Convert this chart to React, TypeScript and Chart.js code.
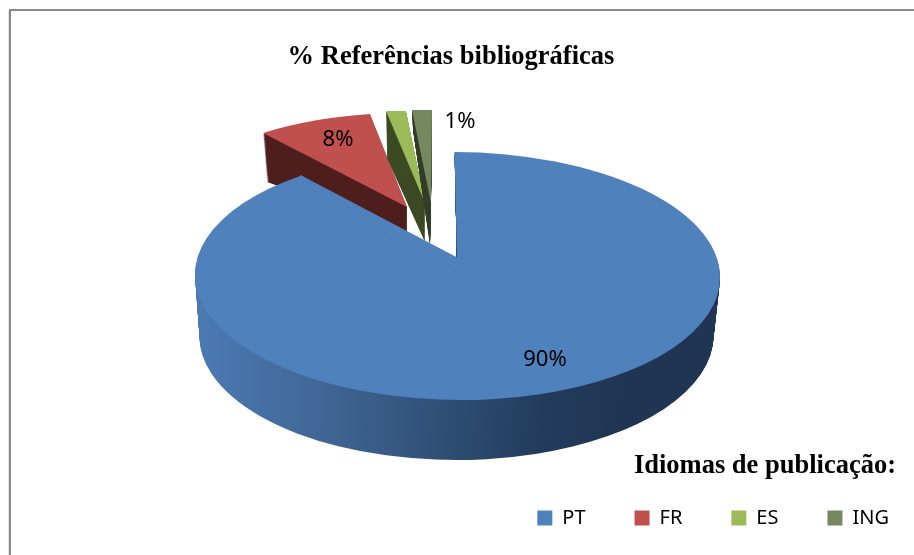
import React, { useEffect, useRef } from "react";
import { Chart, registerables } from "chart.js";

Chart.register(...registerables);

const categories = ["PT", "FR", "ES", "ING"];
const values = [90, 8, 1, 1];
const sliceColors = ["#4f81bd", "#c0504d", "#9bbb59", "#76885f"];
const wallColors = ["#1f3552", "#4f1f1e", "#3d4b24", "#333f2a"];
const titleText = "% Referências bibliográficas";
const legendTitle = "Idiomas de publicação:";
const showLabel = [true, true, false, true];

type P = [number, number];
// Projection of each slice: apex, rim at its start angle, rim at its end angle (or a quarter turn on), for its top and base face.
const projections: { top: [P, P, P]; base: [P, P, P]; quarter?: boolean; steps: number }[] = [
  { top: [[457.5, 276], [454.5, 152], [720, 276]], base: [[456.5, 336], [457, 212], [713.5, 336]], quarter: true, steps: 60 },
  { top: [[407, 207], [263, 133], [370, 114]], base: [[407, 232], [267, 182], [372, 163]], steps: 50 },
  { top: [[425, 203], [386, 111], [406, 111]], base: [[425, 242], [387, 158], [406, 158]], steps: 48 },
  { top: [[431, 203], [412, 110], [432, 110]], base: [[430, 245], [413, 130], [432, 130]], steps: 42 },
];
const mainApex: P = [457.3, 258];
const labelAt: P[] = [[545, 360], [338, 140], [0, 0], [460, 122]];
const wallStops: [number, string][] = [[0, "#4b79b2"], [0.3, "#3f6594"], [0.6, "#2e4c72"], [0.8, "#233c5c"], [1, "#1f3552"]];

function affine(n: P[], d: P[]) {
  const ax = n[1][0] - n[0][0], ay = n[1][1] - n[0][1];
  const bx = n[2][0] - n[0][0], by = n[2][1] - n[0][1];
  const det = ax * by - bx * ay;
  const ux = d[1][0] - d[0][0], uy = d[1][1] - d[0][1];
  const vx = d[2][0] - d[0][0], vy = d[2][1] - d[0][1];
  const a = (ux * by - vx * ay) / det;
  const c = (vx * ax - ux * bx) / det;
  const b = (uy * by - vy * ay) / det;
  const e = (vy * ax - uy * bx) / det;
  return [a, b, c, e, d[0][0] - a * n[0][0] - c * n[0][1], d[0][1] - b * n[0][0] - e * n[0][1]] as const;
}

const pie3d = {
  id: "pie3d",
  beforeDraw(chart: any) {
    const { ctx } = chart;
    ctx.save();
    ctx.fillStyle = "#e4e4e4";
    ctx.fillRect(8, 11, 1, 544);
    ctx.fillStyle = "#898989";
    ctx.fillRect(9, 9, 905, 2);
    ctx.fillRect(9, 9, 2, 546);
    ctx.restore();
  },
  beforeDatasetDraw(chart: any) {
    const { ctx } = chart;
    const els = chart.getDatasetMeta(0).data;
    const renderOne = (i: number) => {
      const el = els[i];
      const p = projections[i];
      const { x, y, startAngle, endAngle, outerRadius: R } = el.getProps(["x", "y", "startAngle", "endAngle", "outerRadius"]);
      const second = p.quarter ? startAngle + Math.PI / 2 : endAngle;
      const nat: P[] = [[x, y], [x + R * Math.cos(startAngle), y + R * Math.sin(startAngle)], [x + R * Math.cos(second), y + R * Math.sin(second)]];
      const saved = el.options;
      const paint = (pts: P[], fill: any) => {
        el.options = new Proxy(saved, { get: (t: any, k: any) => (k === "backgroundColor" ? fill : t[k]) });
        ctx.save();
        const m = affine(nat, pts);
        ctx.transform(m[0], m[1], m[2], m[3], m[4], m[5]);
        el.draw(ctx);
        ctx.restore();
      };
      let wall: any = wallColors[i];
      if (i === 0) {
        const sx = R / (p.top[2][0] - p.top[0][0]);
        const nx = (dx: number) => x + (dx - p.top[0][0]) * sx;
        wall = ctx.createLinearGradient(nx(200), 0, nx(625), 0);
        wallStops.forEach(([o, c]) => wall.addColorStop(o, c));
      }
      for (let s = p.steps; s > 0; s--) {
        const t = s / p.steps;
        paint(p.top.map((q, k) => [q[0] + (p.base[k][0] - q[0]) * t, q[1] + (p.base[k][1] - q[1]) * t] as P), wall);
      }
      paint(p.top, sliceColors[i]);
      el.options = saved;
      if (i === 0) {
        const m = affine(nat, p.top);
        const ex = x + R * Math.cos(endAngle), ey = y + R * Math.sin(endAngle);
        ctx.save();
        ctx.fillStyle = sliceColors[0];
        ctx.strokeStyle = sliceColors[0];
        ctx.lineWidth = 1;
        ctx.beginPath();
        ctx.moveTo(p.top[0][0], p.top[0][1]);
        ctx.lineTo(mainApex[0], mainApex[1]);
        ctx.lineTo(m[0] * ex + m[2] * ey + m[4], m[1] * ex + m[3] * ey + m[5]);
        ctx.closePath();
        ctx.fill();
        ctx.stroke();
        ctx.restore();
      }
    };
    [1, 2, 3, 0].forEach(renderOne);
    return false;
  },
  afterDraw(chart: any) {
    const { ctx } = chart;
    const total = values.reduce((a, b) => a + b, 0);
    ctx.save();
    ctx.fillStyle = "#000";
    ctx.textAlign = "center";
    ctx.textBaseline = "middle";
    ctx.font = "22px 'Noto Sans'";
    values.forEach((v, i) => {
      if (showLabel[i]) ctx.fillText(`${Math.round((v / total) * 100)}%`, labelAt[i][0], labelAt[i][1]);
    });
    ctx.textAlign = "right";
    ctx.font = "bold 26.5px 'Liberation Serif'";
    ctx.fillText(legendTitle, 896, 466);
    ctx.restore();
  },
};

export default function App() {
  const ref = useRef<HTMLCanvasElement>(null);
  useEffect(() => {
    const chart = new Chart(ref.current!, {
      type: "pie",
      data: {
        labels: categories,
        datasets: [{ data: values, backgroundColor: sliceColors, borderWidth: 0 }],
      },
      options: {
        responsive: false,
        animation: false,
        events: [],
        layout: { padding: { left: -36, right: -24, top: 0, bottom: 17 } },
        plugins: {
          tooltip: { enabled: false },
          title: {
            display: true,
            text: titleText,
            color: "#000",
            font: { family: "'Liberation Serif'", size: 26.5, weight: "bold" },
            padding: { top: 41, bottom: 10 },
          },
          legend: {
            display: true,
            position: "bottom",
            align: "end",
            labels: {
              boxWidth: 15,
              boxHeight: 15,
              padding: 49,
              color: "#000",
              font: { family: "'Noto Sans'", size: 20 },
            },
          },
        },
      },
      plugins: [pie3d],
    } as any);
    return () => chart.destroy();
  }, []);
  return (
    <div style={{ position: "absolute", left: 0, top: 0, width: 914, height: 555 }}>
      <canvas ref={ref} width={914} height={555} style={{ display: "block" }} />
    </div>
  );
}
